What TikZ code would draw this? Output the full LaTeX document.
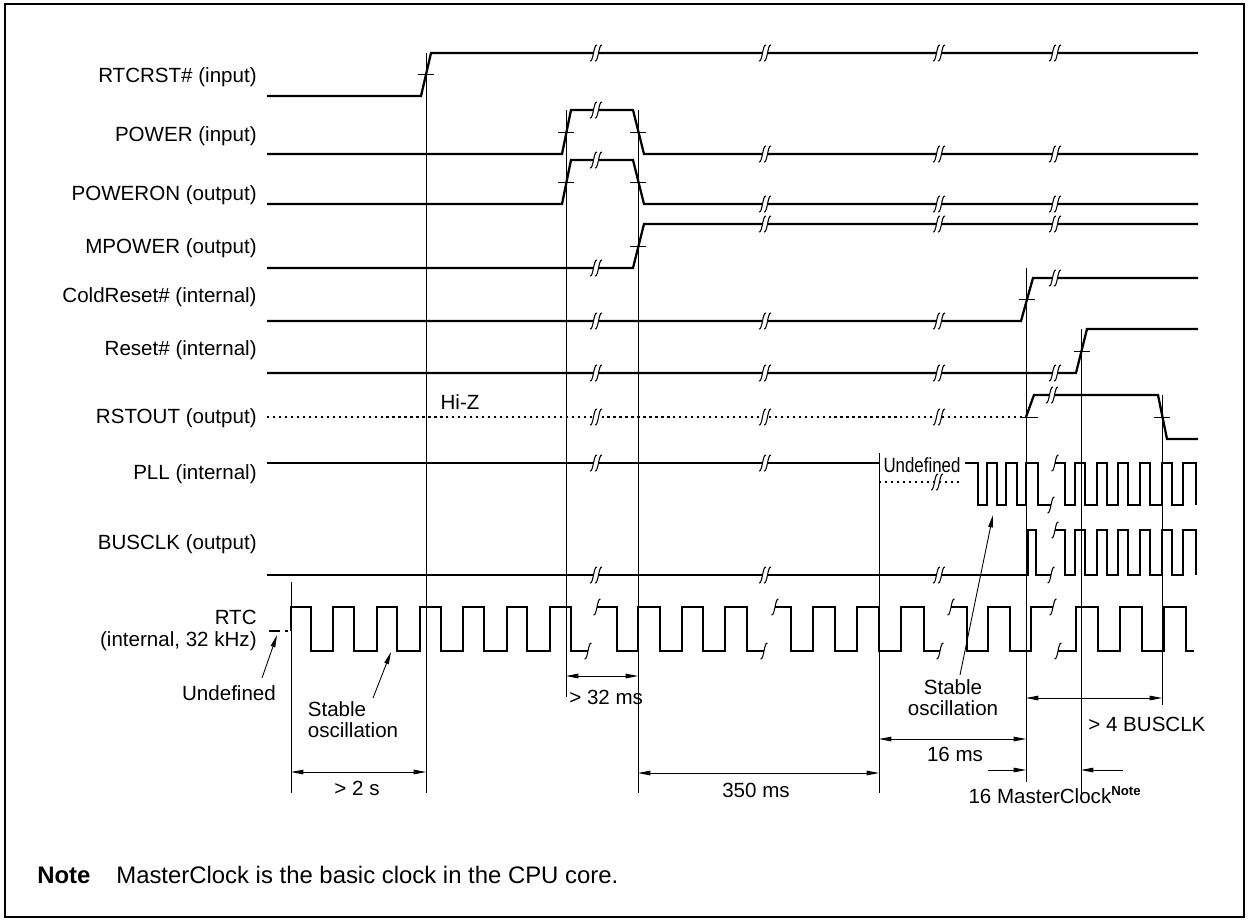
\documentclass[tikz,border=0pt]{standalone}
\usepackage{fontspec}
\setmainfont{Liberation Sans}
\usetikzlibrary{arrows.meta}

\tikzset{
  sig/.style={line width=1.3pt},
  hiz/.style={line width=1.3pt, dash pattern=on 1.3pt off 2.1pt},
  guide/.style={line width=0.5pt},
  frame/.style={line width=0.9pt},
  dim/.style={line width=0.5pt, {Triangle[length=7pt,width=2.6pt]}-{Triangle[length=7pt,width=2.6pt]}},
  ptr/.style={line width=0.5pt, -{Triangle[length=7pt,width=2.6pt]}},
  sname/.style={font=\fontsize{11.7}{14}\selectfont, inner sep=0pt, anchor=east},
  lbl/.style={font=\fontsize{11.7}{12}\selectfont, inner sep=0pt},
  brk/.pic={
    \fill[white] (-2.5,-2.4) rectangle (2.5,2.4);
    \draw[line width=0.6pt] (-6,8) .. controls (-2.5,9) and (-2.5,-9) .. (1,-8);
    \draw[line width=0.6pt] (-1,8) .. controls (2.5,9) and (2.5,-9) .. (6,-8);
  },
  cut/.pic={
    \draw[line width=0.6pt] (-3.5,8) .. controls (0,9) and (0,-9) .. (3.5,-8);
  },
  xmark/.pic={
    \draw[line width=0.5pt] (-8,0) -- (8,0);
  }
}

\begin{document}
\begin{tikzpicture}[x=0.02cm, y=-0.02cm]
  \useasboundingbox (0,0) rectangle (1249,921);
  \draw[frame] (5,4) rectangle (1244,917);

  % signal names
  \node[sname] (lrtcrst) at (257,77) {RTCRST\# (input)};
  \node[sname] (lpower) at (257,136) {POWER (input)};
  \node[sname] (lpoweron) at (257,195) {POWERON (output)};
  \node[sname] (lmpower) at (257,248) {MPOWER (output)};
  \node[sname] (lcold) at (257,297) {ColdReset\# (internal)};
  \node[sname] (lreset) at (257,350) {Reset\# (internal)};
  \node[sname] (lrstout) at (257,418) {RSTOUT (output)};
  \node[sname] (lpll) at (257,474) {PLL (internal)};
  \node[sname] (lbusclk) at (257,544) {BUSCLK (output)};
  \node[lbl, align=right, anchor=east, font=\fontsize{11.7}{12.5}\selectfont] (lrtc) at (257,630) {RTC\\(internal, 32 kHz)};

  % time marks
  \coordinate (t0) at (291,582);   \coordinate (t0b) at (291,793);
  \coordinate (t1) at (426,53);    \coordinate (t1b) at (426,793);
  \coordinate (t2) at (566,110);   \coordinate (t2b) at (566,697);
  \coordinate (t3) at (638,110);   \coordinate (t3b) at (638,793);
  \coordinate (t4) at (879,453);   \coordinate (t4b) at (879,793);
  \coordinate (t5) at (1026,268);  \coordinate (t5b) at (1026,782);
  \coordinate (t6) at (1081,329);  \coordinate (t6b) at (1081,800);
  \coordinate (t7) at (1162,395);  \coordinate (t7b) at (1162,705);

  \draw[guide] (t0) -- (t0b);
  \draw[guide] (t1) -- (t1b);
  \draw[guide] (t2) -- (t2b);
  \draw[guide] (t3) -- (t3b);
  \draw[guide] (t4) -- (t4b);
  \draw[guide] (t5) -- (t5b);
  \draw[guide] (t6) -- (t6b);
  \draw[guide] (t7) -- (t7b);

  % waveforms
  \draw[sig] (267,96) -- (421,96) -- (431,53) -- (1198,53);
  \draw[sig] (267,154) -- (562,154) -- (571,110) -- (633,110) -- (644,154) -- (1198,154);
  \draw[sig] (267,204) -- (562,204) -- (571,160) -- (633,160) -- (644,204) -- (1198,204);
  \draw[sig] (267,268) -- (633,268) -- (644,224) -- (1198,224);
  \draw[sig] (267,321) -- (1021,321) -- (1033,278) -- (1198,278);
  \draw[sig] (267,373) -- (1076,373) -- (1087,329) -- (1198,329);
  \draw[hiz] (267,417) -- (1026,417);
  \draw[sig] (1026,417) -- (1034,395) -- (1158,395) -- (1167,439) -- (1198,439);
  \draw[sig] (267,463) -- (879,463);
  \draw[hiz] (879,482) -- (960,482);
  \draw[sig] (965,463) -| (978,505) -| (987,463) -| (997,505) -| (1006,463)
    -| (1017,505) -| (1026,463) -| (1038,505) -- (1051,505);
  \draw[sig] (1055,463) -| (1065,505) -| (1075,463) -| (1085,505) -| (1097,463)
    -| (1107,505) -| (1118,463) -| (1128,505) -| (1140,463) -| (1150,505)
    -| (1162,463) -| (1172,505) -| (1183,463) -| (1196,505);
  \draw[sig] (267,575) -| (1028,530) -| (1036,575) -- (1051,575);
  \draw[sig] (1055,530) -| (1065,575) -| (1075,530) -| (1085,575) -| (1097,530)
    -| (1107,575) -| (1118,530) -| (1128,575) -| (1140,530) -| (1150,575)
    -| (1162,530) -| (1172,575) -| (1183,530) -| (1196,575);

  % RTC clock
  \draw[sig] (269,631) -- (280,631);
  \draw[sig] (285,631) -- (288,631);
  \draw[sig] (291,631) -- (291,607) -| (311,651) -| (333,607) -| (354,651) -| (377,607)
    -| (397,651) -| (420,607) -| (441,651) -| (463,607) -| (484,651) -| (507,607)
    -| (527,651) -| (550,607) -| (571,651) -- (588,651);
  \draw[sig] (597,607) -| (617,651) -| (638,607) -| (660,651) -| (682,607)
    -| (703,651) -| (725,607) -| (747,651) -- (764,651);
  \draw[sig] (775,607) -| (791,651) -| (813,607) -| (835,651) -| (857,607)
    -| (879,651) -| (901,607) -| (924,651) -- (940,651);
  \draw[sig] (951,607) -| (967,651) -| (988,607) -| (1010,651) -| (1031,607) -- (1053,607);
  \draw[sig] (1058,651) -| (1076,607) -| (1098,651) -| (1120,607) -| (1142,651)
    -| (1164,607) -| (1186,651) -- (1194,651);

  % breaks
  \path (596,53) pic {brk} (765,53) pic {brk} (939,53) pic {brk} (1055,53) pic {brk};
  \path (596,110) pic {brk} (765,154) pic {brk} (939,154) pic {brk} (1055,154) pic {brk};
  \path (596,160) pic {brk} (765,204) pic {brk} (939,204) pic {brk} (1055,204) pic {brk};
  \path (596,268) pic {brk} (765,224) pic {brk} (939,224) pic {brk} (1055,224) pic {brk};
  \path (596,321) pic {brk} (765,321) pic {brk} (939,321) pic {brk} (1055,278) pic {brk};
  \path (596,373) pic {brk} (765,373) pic {brk} (939,373) pic {brk} (1055,373) pic {brk};
  \path (596,417) pic {brk} (765,417) pic {brk} (939,417) pic {brk} (1052,395) pic {brk};
  \path (596,463) pic {brk} (765,463) pic {brk} (937,482) pic {brk};
  \path (596,575) pic {brk} (765,575) pic {brk} (939,575) pic {brk};
  \path (1051,505) pic {cut} (1055,463) pic {cut} (1051,575) pic {cut} (1055,530) pic {cut};
  \path (588,651) pic {cut} (597,607) pic {cut} (764,651) pic {cut} (775,607) pic {cut};
  \path (940,651) pic {cut} (951,607) pic {cut} (1053,607) pic {cut} (1058,651) pic {cut};

  % crossing marks
  \path (426,74) pic {xmark} (566,132) pic {xmark} (638,132) pic {xmark};
  \path (566,182) pic {xmark} (638,182) pic {xmark} (638,246) pic {xmark};
  \path (1027,299) pic {xmark} (1082,351) pic {xmark};
  \path (1030,417) pic {xmark} (1162,417) pic {xmark};

  % notes in the waveforms
  \node[lbl] (hiz) at (460,402) {Hi-Z};
  \node[lbl] (pllund) at (922,465) {\scalebox{0.82}[1]{Undefined}};
  \node[lbl] (rtcund) at (229,693) {Undefined};
  \node[lbl, align=left] (osc1) at (353,720) {Stable\\oscillation};
  \node[lbl, align=center] (osc2) at (953,698) {Stable\\oscillation};
  \coordinate (rtcu) at (277,635);
  \coordinate (rtcs) at (391,652);
  \coordinate (plls) at (993,515);
  \draw[ptr] (262,678) -- (rtcu);
  \draw[ptr] (373,698) -- (rtcs);
  \draw[ptr] (960,675) -- (plls);

  % timing
  \draw[dim] (t0 |- 0,772) -- (t1 |- 0,772);
  \node[lbl] (d2s) at (357,788) {> 2 s};
  \draw[dim] (t2 |- 0,676) -- (t3 |- 0,676);
  \node[lbl, anchor=west] (d32) at (569,697) {> 32 ms};
  \draw[dim] (t3 |- 0,773) -- (t4 |- 0,773);
  \node[lbl] (d350) at (756,790) {350 ms};
  \draw[dim] (t4 |- 0,739) -- (t5 |- 0,739);
  \node[lbl] (d16) at (955,754) {16 ms};
  \draw[dim] (t5 |- 0,698) -- (t7 |- 0,698);
  \node[lbl, anchor=west] (d4b) at (1088,724) {> 4 BUSCLK};
  \coordinate (mca) at (988,770);
  \coordinate (mcb) at (1123,770);
  \draw[ptr] (mca) -- (t5 |- mca);
  \draw[ptr] (mcb) -- (t6 |- mcb);
  \node[lbl] (dmc) at (1055,795) {16 MasterClock\textsuperscript{\bfseries\fontsize{7.5}{8}\selectfont Note}};

  % footnote
  \node[lbl, anchor=west, font=\fontsize{13.6}{15}\selectfont] (nt) at (37,875) {\bfseries Note};
  \node[lbl, anchor=west, font=\fontsize{13.6}{15}\selectfont] (ntx) at (116,875) {MasterClock is the basic clock in the CPU core.};
\end{tikzpicture}
\end{document}
